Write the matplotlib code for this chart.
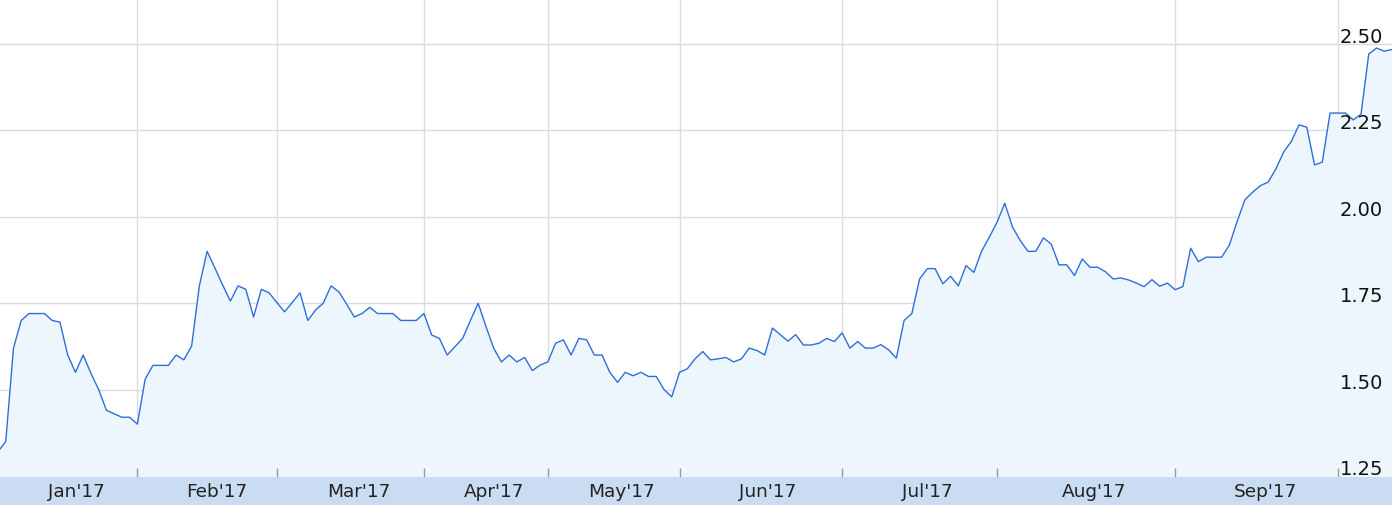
import matplotlib
matplotlib.use("Agg")
import matplotlib.pyplot as plt
import matplotlib.transforms as mtransforms
import numpy as np

# daily closing values (Jan'17 .. Sep'17)
values = [
    1.32, 1.35, 1.62, 1.70, 1.72, 1.72, 1.72, 1.70, 1.695, 1.60,
    1.55, 1.60, 1.547, 1.50, 1.44, 1.43, 1.42, 1.42, 1.40, 1.53,
    1.57, 1.57, 1.57, 1.60, 1.586, 1.626, 1.80, 1.90, 1.852, 1.803,
    1.756, 1.80, 1.79, 1.71, 1.79, 1.78, 1.752, 1.725, 1.752, 1.78,
    1.70, 1.73, 1.75, 1.80, 1.783, 1.748, 1.71, 1.72, 1.738, 1.72,
    1.72, 1.72, 1.70, 1.70, 1.70, 1.72, 1.658, 1.648, 1.60, 1.624,
    1.648, 1.70, 1.75, 1.683, 1.62, 1.58, 1.60, 1.58, 1.593, 1.555,
    1.571, 1.58, 1.634, 1.644, 1.60, 1.648, 1.644, 1.60, 1.60, 1.55,
    1.521, 1.55, 1.54, 1.55, 1.538, 1.538, 1.50, 1.479, 1.55, 1.56,
    1.589, 1.61, 1.586, 1.589, 1.593, 1.58, 1.589, 1.62, 1.613, 1.60,
    1.678, 1.659, 1.64, 1.659, 1.629, 1.629, 1.634, 1.648, 1.639, 1.664,
    1.62, 1.639, 1.62, 1.62, 1.63, 1.615, 1.591, 1.70, 1.72, 1.82,
    1.85, 1.85, 1.806, 1.828, 1.80, 1.859, 1.839, 1.90, 1.941, 1.984,
    2.039, 1.97, 1.931, 1.90, 1.90, 1.939, 1.921, 1.861, 1.861, 1.83,
    1.878, 1.854, 1.854, 1.841, 1.82, 1.823, 1.817, 1.808, 1.798, 1.818,
    1.799, 1.808, 1.789, 1.798, 1.909, 1.87, 1.883, 1.883, 1.883, 1.918,
    1.986, 2.049, 2.071, 2.09, 2.10, 2.138, 2.187, 2.218, 2.266, 2.259,
    2.15, 2.158, 2.30, 2.30, 2.30, 2.28, 2.297, 2.471, 2.488, 2.479,
    2.484,
]
month_labels = ["Jan'17", "Feb'17", "Mar'17", "Apr'17", "May'17",
                "Jun'17", "Jul'17", "Aug'17", "Sep'17"]
month_label_pos = [10.1, 28.2, 46.6, 64.0, 80.5, 99.4, 120.0, 141.5, 163.6]
month_breaks = [18, 36, 55, 71, 88, 109, 129, 152, 173]
y_ticks = [1.25, 1.50, 1.75, 2.00, 2.25, 2.50]

W, H = 1392, 506
band_h = 28
fig = plt.figure(figsize=(W / 100, H / 100), dpi=100)
fig.patch.set_facecolor("white")

ax = fig.add_axes([0, band_h / H, 1, (H - band_h) / H])
x = np.arange(len(values))
ymin, ymax = 1.2471, 2.630
ax.set_xlim(0.258, len(values) - 1)
ax.set_ylim(ymin, ymax)

ax.fill_between(x, values, ymin, color="#eef6fd", lw=0, zorder=1)
for yv in y_ticks:
    ax.axhline(yv, color="#d6daec", lw=1, zorder=0.5)
for xb in month_breaks:
    ax.axvline(xb, color="#dcdcdc", lw=1, zorder=0.6)
ax.plot(x, values, color="#2f6ed8", lw=1.0, zorder=3)

ax.set_xticks(month_breaks)
ax.set_xticklabels([])
ax.set_yticks([])
ax.tick_params(axis="x", direction="in", length=6.5, width=1, color="#9a9a9a", pad=0)
for s in ax.spines.values():
    s.set_visible(False)

trans = mtransforms.blended_transform_factory(ax.transAxes, ax.transData)
trans = mtransforms.offset_copy(trans, fig=fig, x=0, y=2, units="dots")
for yv in y_ticks:
    ax.text(1340 / W, yv, f"{yv:.2f}", transform=trans, ha="left", va="baseline",
            fontsize=14, color="#111111", family="DejaVu Sans", zorder=4, clip_on=False)

band = fig.add_axes([0, 0, 1, band_h / H])
band.set_facecolor("#c9dcf2")
band.set_xlim(ax.get_xlim())
band.set_ylim(0, 1)
for lbl, pos in zip(month_labels, month_label_pos):
    band.text(pos, 0.5, lbl, ha="center", va="center", fontsize=13.3,
              color="#222222", family="DejaVu Sans")
band.set_xticks([])
band.set_yticks([])
for s in band.spines.values():
    s.set_visible(False)

fig.savefig("out.png", dpi=100)
